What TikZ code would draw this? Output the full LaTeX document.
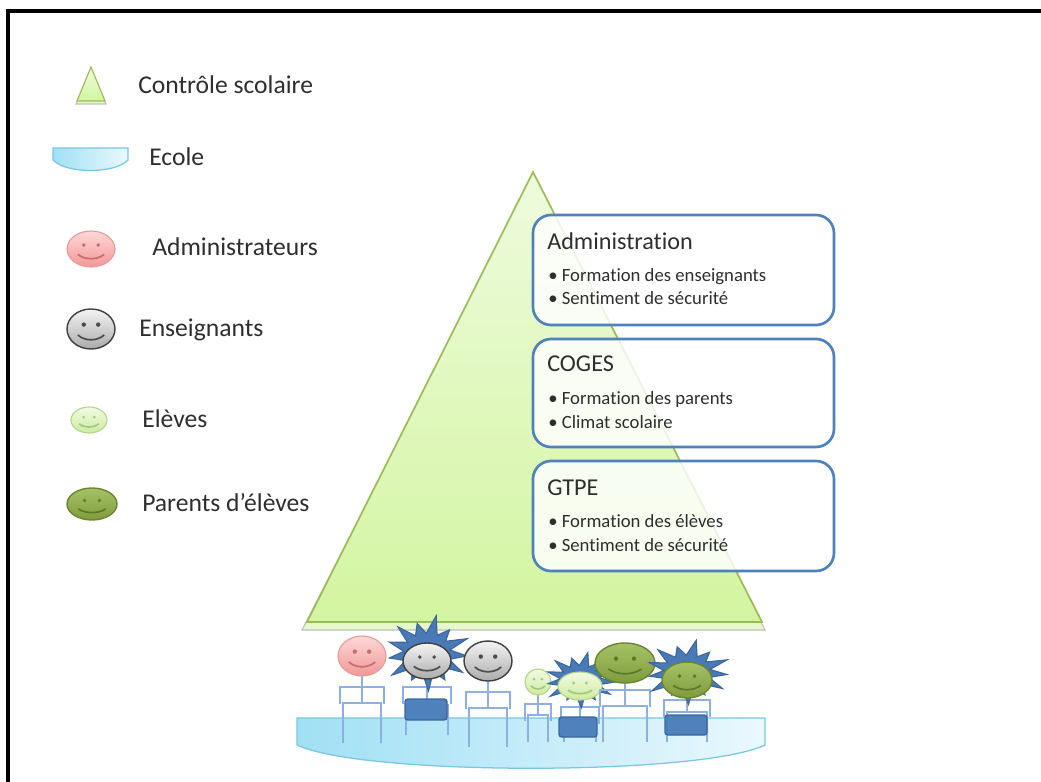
\documentclass[tikz,border=0pt]{standalone}
\usepackage{fontspec}
\setmainfont{Carlito}[Ligatures=NoCommon]
\usepackage{tikz}
\usetikzlibrary{calc}

\definecolor{pyrline}{HTML}{9BBB59}
\definecolor{pyrtop}{HTML}{EEFBDD}
\definecolor{pyrbot}{HTML}{D3F5A0}
\definecolor{panelblue}{HTML}{4F81BD}
\definecolor{dishline}{HTML}{7CC6DE}
\definecolor{dishleft}{HTML}{A0E0F5}
\definecolor{dishright}{HTML}{EAF8FD}
\definecolor{limbblue}{HTML}{8EB0E0}
\definecolor{hairblue}{HTML}{4A7AB5}
\definecolor{hairedge}{HTML}{3B679E}
\definecolor{txt}{HTML}{2E2E2E}
% face colours
\definecolor{admtop}{HTML}{FDD8D8}
\definecolor{admbot}{HTML}{F29797}
\definecolor{admedge}{HTML}{E39C9C}
\definecolor{admeye}{HTML}{C46E6E}
\definecolor{teachtop}{HTML}{F4F4F4}
\definecolor{teachbot}{HTML}{ABABAB}
\definecolor{pupiltop}{HTML}{F2FBE3}
\definecolor{pupilbot}{HTML}{CDEBA0}
\definecolor{pupiledge}{HTML}{B5D58A}
\definecolor{pupileye}{HTML}{A3C978}
\definecolor{parenttop}{HTML}{A6C268}
\definecolor{parentbot}{HTML}{7F9C3C}
\definecolor{parentedge}{HTML}{6B8530}
\definecolor{parenteye}{HTML}{5E7728}

% one smiley: x, y, x radius, y radius, face style, feature colour
\newcommand{\face}[6]{%
  \draw[#5] (#1,#2) ellipse [x radius=#3, y radius=#4];
  \fill[#6] ({#1-0.3*#3},{#2-0.22*#4}) circle [radius=0.11*#4];
  \fill[#6] ({#1+0.3*#3},{#2-0.22*#4}) circle [radius=0.11*#4];
  \draw[#6,line width=1.2pt] ({#1-0.55*#3},{#2+0.3*#4}) .. controls ({#1-0.25*#3},{#2+0.62*#4}) and ({#1+0.25*#3},{#2+0.62*#4}) .. ({#1+0.55*#3},{#2+0.3*#4});
}
% spiky hair behind a head: x, y, x radius, y radius
\newcommand{\spikes}[4]{%
  \draw[hair] plot[samples at={0,...,25}]
    ({#1+cos(\x*360/26+5)*#3*(mod(\x,2)==0 ? 1+0.12*sin(\x*77) : 0.58)},
     {#2+sin(\x*360/26+5)*#4*(mod(\x,2)==0 ? 1+0.12*sin(\x*77) : 0.58)}) -- cycle;
}
% stick body: x, neck, arm line, half width, hip line, feet
\newcommand{\stick}[6]{%
  \draw[limb] (#1,#2) -- (#1,#5);
  \draw[limb] ({#1-#4},{#3+17}) -- ({#1-#4},#3) -- ({#1+#4},#3) -- ({#1+#4},{#3+17});
  \draw[limb] ({#1-#4+3},#6) -- ({#1-#4+3},#5) -- ({#1+#4-3},#5) -- ({#1+#4-3},#6);
}

\tikzset{
  legend/.style={anchor=base west,inner sep=0pt,text=txt,font=\fontsize{18.2}{21}\selectfont},
  title/.style={anchor=base west,inner sep=0pt,text=txt,font=\fontsize{17.2}{20}\selectfont},
  item/.style={anchor=base west,inner sep=0pt,text=txt,font=\fontsize{13.3}{16}\selectfont},
  panel/.style={draw=panelblue,line width=1.9pt,fill=white,fill opacity=0.82,rounded corners=0.45cm},
  pyramid/.style={draw=pyrline,line width=1.2pt,top color=pyrtop,bottom color=pyrbot},
  pyrshadow/.style={draw=black!25,line width=0.8pt,fill=pyrtop!70!pyrbot},
  dish/.style={draw=dishline,line width=0.9pt,left color=dishleft,right color=dishright},
  limb/.style={limbblue,line width=1pt},
  desk/.style={draw=hairedge,line width=1pt,fill=panelblue,rounded corners=2pt},
  hair/.style={draw=hairedge,line width=0.8pt,fill=hairblue,line join=miter},
  admface/.style={draw=admedge,line width=0.8pt,top color=admtop,bottom color=admbot},
  teachface/.style={draw=black!75,line width=1pt,top color=teachtop,bottom color=teachbot},
  pupilface/.style={draw=pupiledge,line width=0.8pt,top color=pupiltop,bottom color=pupilbot},
  parentface/.style={draw=parentedge,line width=1pt,top color=parenttop,bottom color=parentbot},
}

\begin{document}
\begin{tikzpicture}[x=0.025cm,y=-0.025cm]
  \useasboundingbox (0,0) rectangle (1041,782);
  \draw[line width=2.2pt] (8,782) -- (8,11) -- (1041,11);

  % legend
  \draw[pyrshadow] (91,70) -- (106,104) -- (76,104) -- cycle;
  \draw[pyramid,line width=0.8pt] (91,67) -- (105,101) -- (77,101) -- cycle;
  \node[legend] (lgpyr) at (138,94) {Contrôle scolaire};
  \draw[dish] (53,148) -- (128,148) -- (128,160) .. controls (115,174) and (66,174) .. (53,160) -- cycle;
  \node[legend] (lgdish) at (149,166) {Ecole};
  \face{91}{249}{24}{18}{admface}{admeye}
  \node[legend] (lgadm) at (152,255) {Administrateurs};
  \face{91}{329}{24}{20}{teachface}{black!70}
  \node[legend] (lgteach) at (139,336) {Enseignants};
  \face{89}{420}{18}{13}{pupilface}{pupileye}
  \node[legend] (lgpupil) at (142,427) {Elèves};
  \face{92}{504}{25}{16}{parentface}{parenteye}
  \node[legend] (lgparent) at (142,511) {Parents d’élèves};

  % pyramid
  \draw[pyrshadow] (533,180) -- (765,630) -- (302,630) -- cycle;
  \draw[pyramid] (533,172) -- (762,622) -- (307,622) -- cycle;

  % levels
  \draw[panel] (533,215) rectangle (834,325);
  \node[title] (admin) at (547,249) {Administration};
  \node[item] (admin1) at (548,281) {• Formation des enseignants};
  \node[item] (admin2) at (548,304) {• Sentiment de sécurité};
  \draw[panel] (533,339) rectangle (834,447);
  \node[title] (coges) at (547,371) {COGES};
  \node[item] (coges1) at (548,404) {• Formation des parents};
  \node[item] (coges2) at (548,428) {• Climat scolaire};
  \draw[panel] (533,461) rectangle (834,571);
  \node[title] (gtpe) at (547,495) {GTPE};
  \node[item] (gtpe1) at (548,527) {• Formation des élèves};
  \node[item] (gtpe2) at (548,551) {• Sentiment de sécurité};

  % school and its people
  \draw[dish] (297,718) -- (765,718) -- (765,745) .. controls (700,776) and (362,776) .. (297,745) -- cycle;

  \stick{362}{676}{687}{22}{703}{743}
  \face{362}{656}{24}{20}{admface}{admeye}

  \stick{427}{678}{687}{24}{705}{735}
  \draw[desk] (405,699) rectangle (447,720);
  \spikes{427}{653}{40}{34}
  \face{427}{661}{24}{18}{teachface}{black!70}

  \stick{488}{681}{692}{22}{708}{747}
  \face{488}{661}{24}{20}{teachface}{black!70}

  \stick{538}{695}{704}{13}{715}{742}
  \face{538}{682}{13}{13}{pupilface}{pupileye}

  \stick{580}{700}{707}{19}{718}{742}
  \draw[desk] (559,717) rectangle (597,737);
  \spikes{580}{680}{34}{25}
  \face{580}{686}{22}{14}{pupilface}{pupileye}

  \stick{625}{683}{690}{25}{706}{742}
  \face{625}{663}{30}{20}{parentface}{parenteye}

  \stick{687}{698}{700}{23}{712}{742}
  \draw[desk] (665,715) rectangle (707,735);
  \spikes{687}{672}{40}{29}
  \face{687}{680}{25}{18}{parentface}{parenteye}
\end{tikzpicture}
\end{document}
